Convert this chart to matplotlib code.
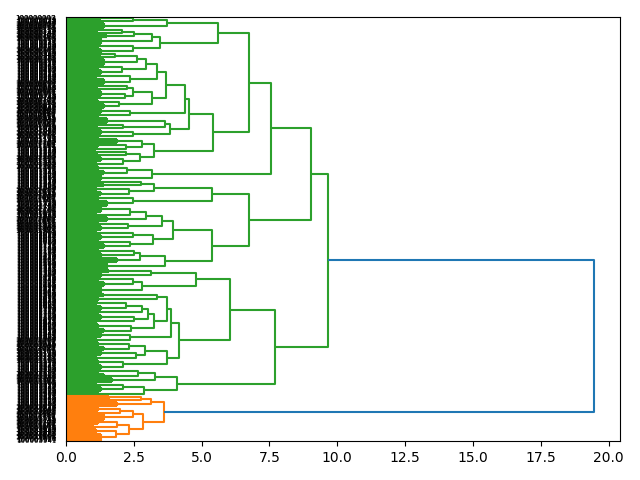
import matplotlib
matplotlib.use("Agg")
import matplotlib.pyplot as plt
from matplotlib.collections import LineCollection

# leaf groups from top to bottom: number of leaves and the height where they join
group_sizes = [
    4, 4, 8, 4, 4, 4, 8, 6, 6,
    4, 4, 8, 6, 6, 6, 8, 4, 4, 8, 4, 6, 6,
    6, 6, 8, 4, 4, 6, 6,
    6, 6, 4, 4, 4, 6, 6,
    6, 6, 8,
    4, 4, 6, 6, 6, 8,
    8, 6, 6, 6, 6, 6, 6, 6, 6,
    6, 6, 6, 10,
    4, 6, 6, 6, 10,
    4, 6, 6, 6, 6, 6, 6, 6, 6, 6, 6, 6, 6, 6, 6, 6, 6,
    6, 6, 6, 6, 6, 6,
    4, 4, 6, 6, 4, 8, 6, 6, 6, 10,
]
group_heights = [
    1.3, 1.1, 1.4, 1.2, 1.0, 1.5, 1.3, 1.2, 1.3,
    1.1, 1.3, 1.4, 1.2, 1.3, 1.1, 1.4, 1.2, 1.0, 1.3, 1.1, 1.2, 1.4,
    1.3, 1.2, 1.5, 1.1, 1.2, 1.3, 1.2,
    1.9, 1.2, 1.1, 1.0, 1.2, 1.3, 1.1,
    1.2, 1.4, 1.3,
    1.2, 1.4, 1.1, 1.3, 1.2, 1.5,
    1.3, 1.1, 1.5, 1.2, 1.3, 1.1, 1.3, 1.2, 1.4,
    1.2, 1.3, 1.9, 1.5,
    1.6, 1.3, 1.2, 1.4, 1.3,
    1.4, 1.2, 1.1, 1.3, 1.2, 1.3, 1.1, 1.2, 1.4, 1.3, 1.1, 1.2, 1.4, 1.3, 1.1, 1.2, 1.3,
    1.2, 1.4, 1.7, 1.1, 1.3, 1.2,
    1.6, 1.2, 1.9, 1.2, 1.0, 1.4, 1.2, 1.0, 1.1, 1.3,
]

# merges as (height, upper, lower); ints refer to the leaf groups above
A11 = (3.74, (2.48, 0, 1), 2)
A12 = (3.47, (3.16, (2.51, (2.05, 3, 4), 5), 6), (2.48, 7, 8))
A2111 = (3.69, (3.34, (2.95, (2.63, (1.8, 9, 10), 11), (2.05, 12, 13)), (2.36, 14, 15)),
         (3.16, (2.46, (2.24, 16, 17), (2.18, 18, 19)), (1.97, 20, 21)))
A212 = (3.84, (3.65, 24, (2.1, 25, 26)), (2.46, 27, 28))
A21 = (4.54, (4.39, A2111, (2.36, 22, 23)), A212)
A22 = (3.25, (2.79, 29, (2.2, 30, 31)), (2.73, (2.21, 32, 33), (2.11, 34, 35)))
A = (6.75, (5.62, A11, A12), (5.43, A21, A22))
B = (3.16, (2.26, 36, 37), 38)
C1 = (5.39, (3.26, (2.75, 39, 40), (2.34, 41, 42)), (2.48, 43, 44))
C21 = (3.96, (3.53, (2.95, (2.36, 45, 46), 47), (2.3, 48, 49)),
       (3.2, (2.46, 50, 51), (2.36, 52, 53)))
C22 = (3.65, (2.73, (2.51, 54, 55), 56), 57)
C = (6.75, C1, (5.39, C21, C22))
D11 = (4.8, (3.14, 58, 59), (2.82, (2.46, 60, 61), 62))
D12 = (4.15, (3.87, (3.71, (3.34, 63, 64),
                    (3.26, (3.04, (2.79, (2.2, 65, 66), 67), (2.5, 68, 69)), (2.4, 70, 71))),
              (2.36, 72, 73)),
       (3.74, (2.92, (2.34, 74, 75), (2.6, 76, 77)), (2.1, 78, 79)))
D2 = (4.11, (3.28, (2.67, 80, 81), 82), (2.88, (2.1, 83, 84), 85))
D = (7.69, (6.05, D11, D12), D2)
green = (9.67, (9.04, (7.56, A, B), C), D)
orange = (3.62, (3.14, (2.75, 86, 87), 88),
          (2.85, (2.48, (2.0, 89, 90), 91), (2.34, (1.9, 92, 93), (1.83, 94, 95))))
root_height = 19.45

N = sum(group_sizes)
leaf_labels = [f"{100000000 + 7 * k}" for k in range(N)]

segs, cols, leaf_y = [], [], []


def draw(node, color):
    if isinstance(node, int):
        n, h = group_sizes[node], group_heights[node]
        ys = [10 * N - 5 - 10 * (len(leaf_y) + i) for i in range(n)]
        leaf_y.extend(ys)
        for y in ys:
            segs.append([(0, y), (h, y)])
            cols.append(color)
        segs.append([(h, ys[0]), (h, ys[-1])])
        cols.append(color)
        return h, sum(ys) / n
    h, a, b = node
    ha, ya = draw(a, color)
    hb, yb = draw(b, color)
    segs.append([(ha, ya), (h, ya), (h, yb), (hb, yb)])
    cols.append(color)
    return h, (ya + yb) / 2


fig, ax = plt.subplots(figsize=(6.4, 4.8), dpi=100)
hg, yg = draw(green, "C2")
ho, yo = draw(orange, "C1")
segs.append([(hg, yg), (root_height, yg), (root_height, yo), (ho, yo)])
cols.append("C0")

ax.add_collection(LineCollection(segs, colors=cols, linewidths=1.5))
ax.set_xlim(0, root_height * 1.05)
ax.set_ylim(0, 10 * N)
ax.set_yticks(leaf_y)
ax.set_yticklabels(leaf_labels, fontsize=5)
for line in ax.get_yticklines():
    line.set_visible(False)

plt.subplots_adjust(left=0.103, right=0.969, top=0.965, bottom=0.081)
plt.savefig("out.png")
